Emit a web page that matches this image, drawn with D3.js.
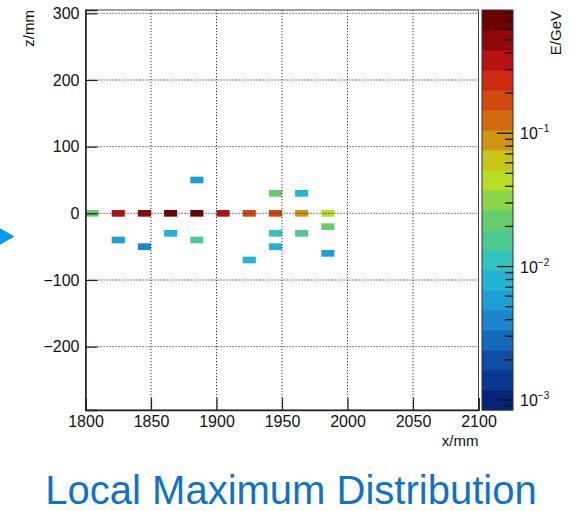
<!DOCTYPE html>
<html>
<head>
<meta charset="utf-8">
<script src="https://cdn.jsdelivr.net/npm/d3@7"></script>
<style>
  html, body { margin: 0; padding: 0; background: #fff; }
  svg { display: block; font-family: "Liberation Sans", Arial, Helvetica, sans-serif; }
</style>
</head>
<body>
<svg id="chart" width="572" height="511"></svg>
<script>
// Local-maximum cells: lower x edge of the 10 mm bin, z bin centre, deposited energy
const cellX = [1800, 1820, 1840, 1860, 1880, 1900, 1920, 1940, 1960, 1980,
               1880, 1940, 1960,
               1820, 1840, 1860, 1880, 1920, 1940, 1940, 1960, 1980, 1980];
const cellZ = [0, 0, 0, 0, 0, 0, 0, 0, 0, 0,
               50, 30, 30,
               -40, -50, -30, -40, -70, -30, -50, -30, -20, -60];
const cellE = [0.0223, 0.35, 0.5, 0.84, 0.75, 0.35, 0.177, 0.17, 0.088, 0.044,
               0.0056, 0.0223, 0.0079,
               0.0056, 0.004, 0.0079, 0.0158, 0.0079, 0.0112, 0.0079, 0.0158, 0.0223, 0.0056];

const xTicks = [1800, 1850, 1900, 1950, 2000, 2050, 2100];
const zTicks = [-200, -100, 0, 100, 200, 300];
const eTickExp = [-3, -2, -1];

const binW = 10, binH = 10;

// 20-step rainbow palette, low to high
const palette = ["#06237a", "#0a3890", "#0e4fa4", "#136ab8", "#1a86cb", "#1e9fd3", "#22b5d3",
                 "#33c5bd", "#4ec98f", "#66cd6c", "#8bd548", "#b5df20", "#c9c418", "#d09512",
                 "#d26a10", "#d04a10", "#cd2912", "#b81111", "#8e0a0a", "#6c0303"];

const svg = d3.select("#chart");
const fL = 85.5, fR = 478.5, fT = 10, fB = 410;

const x = d3.scaleLinear().domain([1800, 2100]).range([fL, fR]);
const z = d3.scaleLinear().domain([-295, 305]).range([fB, fT]);

const eMax = d3.max(cellE), eMin = eMax * 1e-3;
const eScale = d3.scaleLog().domain([eMin, eMax]).range([fB, fT]);
const color = d3.scaleQuantize()
  .domain([Math.log10(eMin), Math.log10(eMax)])
  .range(palette);

// frame
svg.append("rect").attr("x", fL).attr("y", fT).attr("width", fR - fL).attr("height", fB - fT)
  .attr("fill", "#fff").attr("stroke", "#444").attr("stroke-width", 1);

// cells
svg.append("g").selectAll("rect").data(cellX.map((d, i) => ({ x: d, z: cellZ[i], e: cellE[i] })))
  .join("rect")
  .attr("x", d => x(d.x))
  .attr("y", d => z(d.z + binH / 2))
  .attr("width", d => x(d.x + binW) - x(d.x))
  .attr("height", d => z(d.z - binH / 2) - z(d.z + binH / 2))
  .attr("fill", d => color(Math.log10(d.e)));

// dotted grid on top of the cells
const grid = svg.append("g").attr("stroke", "#333").attr("stroke-width", 1).attr("stroke-dasharray", "1.2,1.8");
grid.selectAll("line.gx").data(xTicks.slice(1, -1)).join("line")
  .attr("x1", d => x(d)).attr("x2", d => x(d)).attr("y1", fT).attr("y2", fB);
grid.selectAll("line.gz").data(zTicks).join("line")
  .attr("y1", d => z(d)).attr("y2", d => z(d)).attr("x1", fL).attr("x2", fR);

// x axis
const xMinor = d3.range(1810, 2100, 10);
const gx = svg.append("g").attr("transform", `translate(0,${fB})`);
gx.call(d3.axisBottom(x).tickValues(xMinor).tickSize(-6).tickFormat(""));
gx.call(d3.axisBottom(x).tickValues(xTicks).tickSize(-12).tickPadding(6).tickFormat(d3.format("d")));
gx.selectAll("path.domain").attr("stroke", "#222").attr("stroke-width", 1.5);
gx.selectAll(".tick line").attr("stroke", "#222").attr("stroke-width", 1.2);
gx.selectAll(".tick text").attr("font-size", 16).attr("fill", "#111")
  .attr("font-family", "'Liberation Sans', Arial, sans-serif");

// z axis
const zMinor = d3.range(-280, 301, 20);
const gz = svg.append("g").attr("transform", `translate(${fL},0)`);
gz.call(d3.axisLeft(z).tickValues(zMinor).tickSize(-6).tickFormat(""));
gz.call(d3.axisLeft(z).tickValues(zTicks).tickSize(-12).tickPadding(6).tickFormat(d3.format("d")));
gz.selectAll("path.domain").attr("stroke", "#222").attr("stroke-width", 1.5);
gz.selectAll(".tick line").attr("stroke", "#222").attr("stroke-width", 1.2);
gz.selectAll(".tick text").attr("font-size", 16).attr("fill", "#111")
  .attr("font-family", "'Liberation Sans', Arial, sans-serif");

// axis titles
svg.append("text").attr("x", fR).attr("y", 446).attr("text-anchor", "end")
  .attr("font-size", 15).attr("fill", "#111").text("x/mm");
svg.append("text").attr("transform", "translate(34,10) rotate(-90)").attr("text-anchor", "end")
  .attr("font-size", 15).attr("fill", "#111").text("z/mm");

// colour bar
const cL = 482, cR = 513;
const bandEdges = d3.range(palette.length + 1).map(i => eMin * Math.pow(eMax / eMin, i / palette.length));
svg.append("g").selectAll("rect").data(palette).join("rect")
  .attr("x", cL).attr("width", cR - cL)
  .attr("y", (d, i) => eScale(bandEdges[i + 1]))
  .attr("height", (d, i) => eScale(bandEdges[i]) - eScale(bandEdges[i + 1]) + 0.5)
  .attr("fill", (d, i) => color(Math.log10(Math.sqrt(bandEdges[i] * bandEdges[i + 1]))));
svg.append("rect").attr("x", cL).attr("y", fT).attr("width", cR - cL).attr("height", fB - fT)
  .attr("fill", "none").attr("stroke", "#333").attr("stroke-width", 1);

const eTicksAll = eScale.ticks();
svg.append("g").selectAll("line").data(eTicksAll).join("line")
  .attr("x1", d => cR - (eTickExp.some(k => Math.abs(Math.log10(d) - k) < 1e-9) ? 16 : 8))
  .attr("x2", cR)
  .attr("y1", d => eScale(d)).attr("y2", d => eScale(d))
  .attr("stroke", "#111").attr("stroke-width", 1.3);

const eLab = svg.append("g").selectAll("text").data(eTickExp).join("text")
  .attr("x", 520).attr("y", d => eScale(Math.pow(10, d)) + 6)
  .attr("font-size", 16).attr("fill", "#111");
eLab.append("tspan").text("10");
eLab.append("tspan").attr("font-size", 10).attr("dy", -7).text(d => "\u2212" + Math.abs(d));

svg.append("text").attr("transform", "translate(561,11) rotate(-90)").attr("text-anchor", "end")
  .attr("font-size", 15).attr("fill", "#111").text("E/GeV");

// slide marker and caption
svg.append("path").attr("d", "M-4,226 L14.5,236.5 L-4,247 Z").attr("fill", "#0a9af2");
svg.append("text").attr("x", 291).attr("y", 504).attr("text-anchor", "middle")
  .attr("font-size", 40).attr("fill", "#1173c5").text("Local Maximum Distribution");
</script>
</body>
</html>
